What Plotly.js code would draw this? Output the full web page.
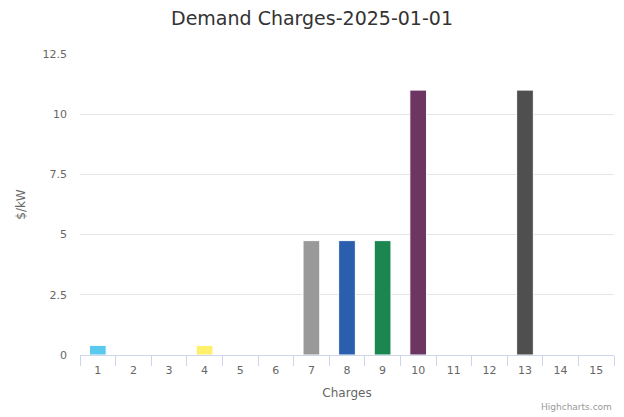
<!DOCTYPE html>
<html>
<head>
<meta charset="utf-8">
<script src="https://cdn.plot.ly/plotly-3.0.1.min.js"></script>
<style>html,body{margin:0;padding:0;background:#fff;}#chart{width:624px;height:417px;}</style>
</head>
<body>
<div id="chart"></div>
<script>
const categories = ["1","2","3","4","5","6","7","8","9","10","11","12","13","14","15"];
const values = [0.4, 0, 0, 0.4, 0, 0, 4.75, 4.75, 4.75, 11, 0, 0, 11, 0, 0];
const barColors = ["#5bc8ee","#2b5fae","#1c8651","#fff06c","#999999","#6d3561","#999999","#2b5fae","#1c8651","#6d3561","#4f4f4f","#4f4f4f","#4f4f4f","#5bc8ee","#fff06c"];
const yTicks = [0, 2.5, 5, 7.5, 10, 12.5];
const yTickText = ["0", "2.5", "5", "7.5", "10", "12.5"];

const font = '"DejaVu Sans", "Lucida Grande", sans-serif';

Plotly.newPlot('chart', [{
  type: 'bar',
  x: categories,
  y: values,
  width: 0.47,
  marker: { color: barColors, line: { color: '#ffffff', width: 1 } },
  hoverinfo: 'x+y'
}], {
  width: 624, height: 417,
  margin: { l: 80, r: 10, t: 54, b: 62 },
  paper_bgcolor: '#ffffff', plot_bgcolor: '#ffffff',
  font: { family: font, color: '#666666', size: 11 },
  title: { text: 'Demand Charges-2025-01-01', x: 0.5, xanchor: 'center', y: 0.955, yanchor: 'middle',
           font: { family: font, size: 19, color: '#333333' } },
  showlegend: false,
  bargap: 0.53,
  xaxis: {
    type: 'category',
    tickson: 'boundaries',
    ticks: 'outside', ticklen: 10, tickcolor: '#ccd6eb', tickwidth: 1,
    showline: true, linecolor: '#ccd6eb', linewidth: 1,
    showgrid: false, zeroline: false,
    ticklabelstandoff: 5,
    tickfont: { family: font, size: 11, color: '#666666' },
    title: { text: 'Charges', font: { family: font, size: 12, color: '#666666' }, standoff: 12 }
  },
  yaxis: {
    range: [0, 12.5],
    tickvals: yTicks, ticktext: yTickText,
    showgrid: true, gridcolor: '#e6e6e6', gridwidth: 1,
    zeroline: false, showline: false, ticks: '',
    ticklabelstandoff: 12,
    tickfont: { family: font, size: 11, color: '#666666' },
    title: { text: '$/kW', font: { family: font, size: 12, color: '#666666' }, standoff: 14 }
  },
  annotations: [{
    text: 'Highcharts.com', xref: 'paper', yref: 'paper', x: 1, y: 0,
    xanchor: 'right', yanchor: 'middle', yshift: -52, xshift: 0, showarrow: false,
    font: { family: font, size: 9, color: '#999999' }
  }]
}, { displayModeBar: false, staticPlot: true });
</script>
</body>
</html>
